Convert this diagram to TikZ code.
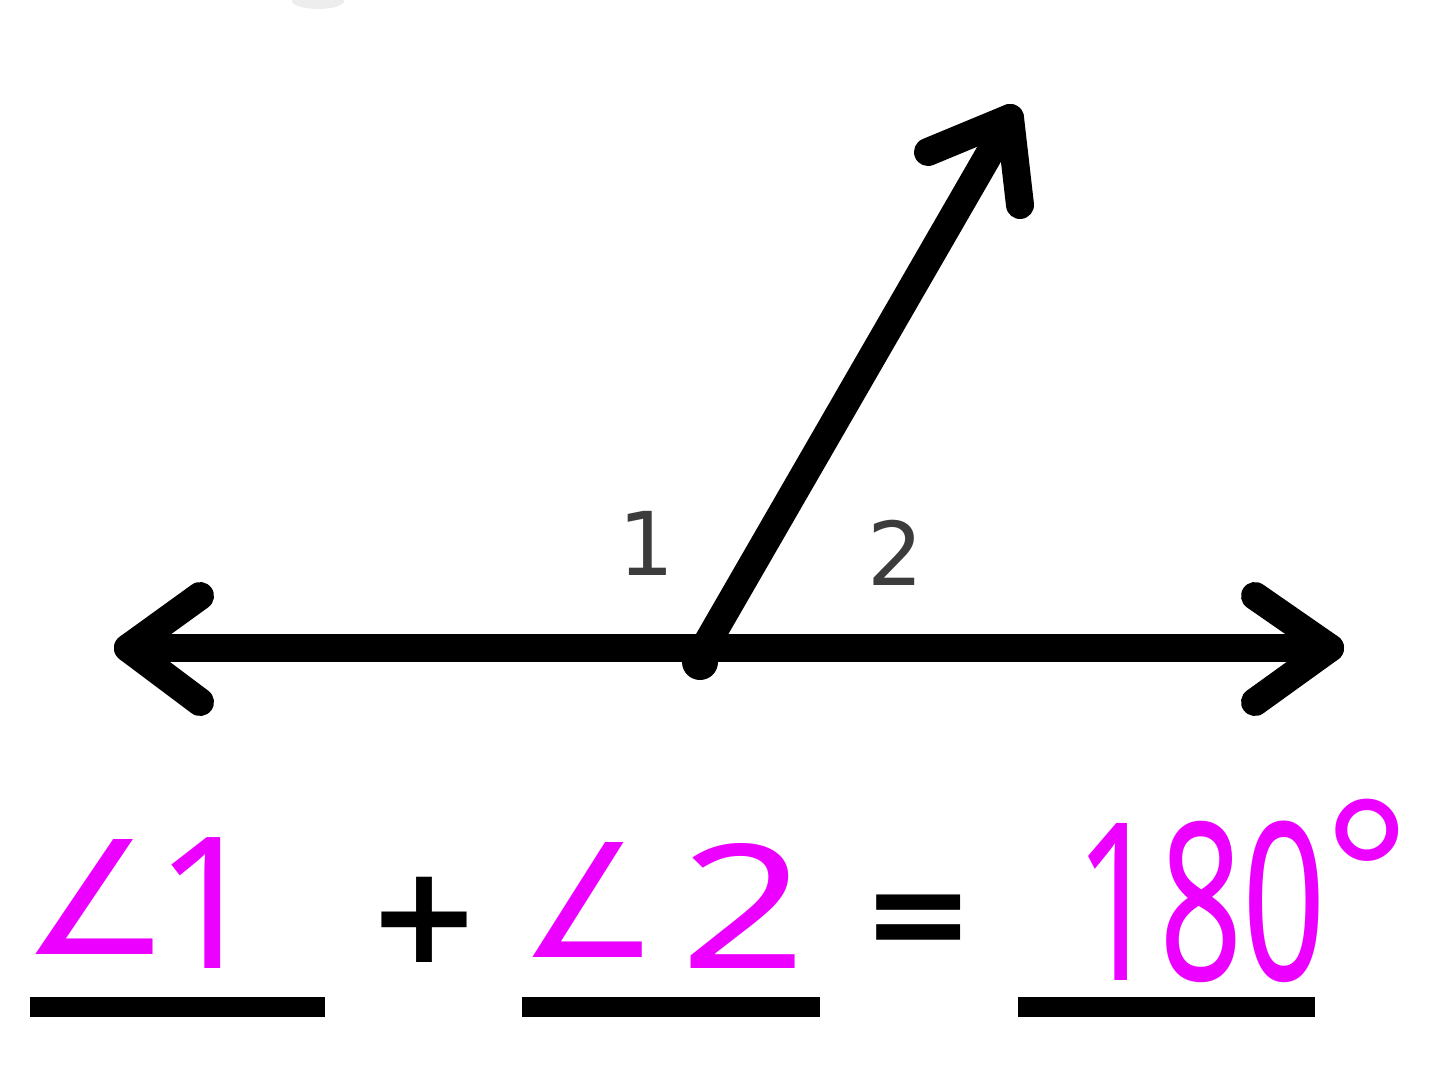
\documentclass[tikz,border=0pt]{standalone}
\usepackage{fontspec}
\usepackage{graphicx}
\setmainfont{DejaVu Sans}
\newfontfamily\handfont{Noto Sans}
\newfontfamily\degfont{Liberation Sans}
\usetikzlibrary{calc}
\definecolor{ink}{RGB}{236,0,255}
\definecolor{lbl}{RGB}{60,60,60}
\begin{document}
\begin{tikzpicture}[x=0.5pt,y=-0.5pt,
  ray/.style={line width=14pt, line cap=round, line join=round},
  blank/.style={line width=10pt},
  hand/.style={text=ink, inner sep=0pt, outer sep=0pt},
  sym/.style={text=black, inner sep=0pt, outer sep=0pt, font=\bfseries},
  numlbl/.style={text=lbl, inner sep=0pt, anchor=base, font=\fontsize{44}{44}\selectfont}]
\useasboundingbox (0,0) rectangle (1440,1070);
% faint smudge at top
\fill[gray!14] (318,1) ellipse (26 and 8);
% geometry
\coordinate (V) at (703,650);
\coordinate (L) at (128,648);
\coordinate (R) at (1330,648);
\coordinate (T) at (1010,118);
\draw[ray] (L) -- (R);
\draw[ray] (V) -- (T);
\draw[ray] (200,596) -- (L) -- (200,702);
\draw[ray] (1255,596) -- (R) -- (1255,702);
\draw[ray] (928,152) -- (T) -- (1020,205);
\fill (V) ++(-3,12) circle (18);
% angle labels
\node[numlbl] (n1) at (646,575) {1};
\node[numlbl] (n2) at (895,585) {2};
% equation
\node[hand] (a1) at (97,897) {\resizebox{75pt}{57.5pt}{∠}};
\node[hand, anchor=base, font=\handfont\fontsize{91.7}{92}\selectfont] (d1) at (208,968) {1};
\node[sym, anchor=base, font=\bfseries\fontsize{68}{68}\selectfont] (plus) at (424,962) {+};
\node[hand] (a2) at (590,900) {\resizebox{70pt}{57.5pt}{∠}};
\node[hand] (d2) at (744,905.5) {\resizebox{63pt}{62.5pt}{\handfont 2}};
\node[sym, anchor=base, font=\bfseries\fontsize{67}{67}\selectfont] (eq) at (919,959) {=};
\node[hand, anchor=base, font=\handfont\fontsize{110}{110}\selectfont] (d180) at (1201,980) {\scalebox{0.665}[1]{180}};
\node[hand, anchor=base, font=\degfont\fontsize{112}{112}\selectfont] (deg) at (1367,955) {°};
% blanks
\draw[blank] (30,1007) -- (325,1007);
\draw[blank] (522,1007) -- (820,1007);
\draw[blank] (1018,1007) -- (1315,1007);
\end{tikzpicture}
\end{document}
